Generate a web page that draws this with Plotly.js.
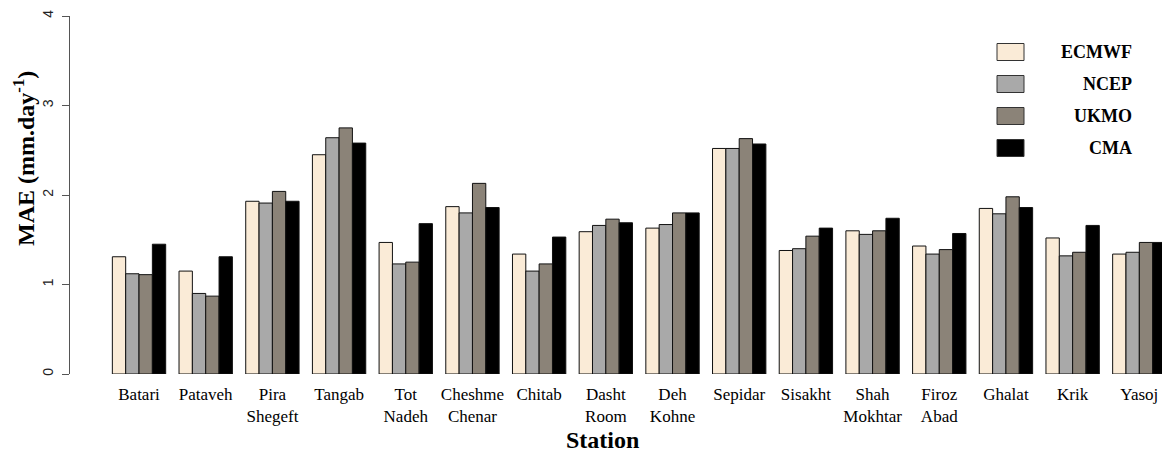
<!DOCTYPE html>
<html>
<head>
<meta charset="utf-8">
<script src="https://cdn.plot.ly/plotly-3.0.1.min.js"></script>
<style>
  html, body { margin: 0; padding: 0; background: #fff; }
  #chart { width: 1162px; height: 452px; }
</style>
</head>
<body>
<div id="chart"></div>
<script>
// ---- data ----
const stations = ["Batari", "Pataveh", "Pira<br>Shegeft", "Tangab", "Tot<br>Nadeh", "Cheshme<br>Chenar",
  "Chitab", "Dasht<br>Room", "Deh<br>Kohne", "Sepidar", "Sisakht", "Shah<br>Mokhtar", "Firoz<br>Abad",
  "Ghalat", "Krik", "Yasoj"];
const seriesNames = ["ECMWF", "NCEP", "UKMO", "CMA"];
const ecmwf = [1.31, 1.15, 1.93, 2.45, 1.47, 1.87, 1.34, 1.59, 1.63, 2.52, 1.38, 1.60, 1.43, 1.85, 1.52, 1.34];
const ncep  = [1.12, 0.90, 1.91, 2.64, 1.23, 1.80, 1.15, 1.66, 1.67, 2.52, 1.40, 1.56, 1.34, 1.79, 1.32, 1.36];
const ukmo  = [1.11, 0.87, 2.04, 2.75, 1.25, 2.13, 1.23, 1.73, 1.80, 2.63, 1.54, 1.60, 1.39, 1.98, 1.36, 1.47];
const cma   = [1.45, 1.31, 1.93, 2.58, 1.68, 1.86, 1.53, 1.69, 1.80, 2.57, 1.63, 1.74, 1.57, 1.86, 1.66, 1.47];
const yTicks = [0, 1, 2, 3, 4];
const yTitle = "MAE (mm.day<sup>-1</sup>)";
const xTitle = "Station";

// ---- styling ----
const colors = ["#FAEBD7", "#A9A9A9", "#8B8378", "#000000"];
const serif = "Liberation Serif";
const sans = "Liberation Sans";

const W = 1162, H = 452;
const M = {l: 70, r: 0, t: 16, b: 78};
const plotW = W - M.l - M.r, plotH = H - M.t - M.b;
const px = x => (x - M.l) / plotW;        // pixel -> paper x
const py = y => (H - M.b - y) / plotH;    // pixel -> paper y

const values = [ecmwf, ncep, ukmo, cma];
const traces = values.map((v, i) => ({
  type: "bar",
  name: seriesNames[i],
  x: stations,
  y: v,
  marker: {color: colors[i], line: {color: "#111", width: 1}},
  showlegend: false,
  hoverinfo: "x+y+name"
}));

// custom legend (boxes + right-aligned bold labels)
const legendRowsY = [52, 84, 116, 148];
const shapes = [];
const annotations = [];
seriesNames.forEach((n, i) => {
  const cy = legendRowsY[i];
  shapes.push({
    type: "rect", xref: "paper", yref: "paper",
    x0: px(997), x1: px(1024), y0: py(cy + 8.5), y1: py(cy - 8.5),
    fillcolor: colors[i], line: {color: "#333", width: 1}
  });
  annotations.push({
    xref: "paper", yref: "paper", x: px(1134), y: py(cy),
    xanchor: "right", yanchor: "middle", showarrow: false,
    text: "<b>" + n + "</b>", font: {family: serif, size: 18, color: "#000"}
  });
});
annotations.push({
  xref: "paper", yref: "paper", x: px(602), y: py(440),
  xanchor: "center", yanchor: "middle", showarrow: false,
  text: "<b>" + xTitle + "</b>", font: {family: serif, size: 24, color: "#000"}
});
annotations.push({
  xref: "paper", yref: "paper", x: px(24), y: py(159),
  xanchor: "center", yanchor: "middle", showarrow: false, textangle: -90,
  text: "<b>" + yTitle + "</b>", font: {family: serif, size: 24, color: "#000"}
});

const layout = {
  width: W, height: H,
  margin: M,
  paper_bgcolor: "#fff", plot_bgcolor: "#fff",
  font: {family: serif},
  barmode: "group", bargap: 0.2, bargroupgap: 0,
  showlegend: false,
  xaxis: {
    type: "category",
    range: [-1.035, 15.34],
    showgrid: false, zeroline: false, showline: false, ticks: "",
    tickfont: {family: serif, size: 17, color: "#000"},
    tickangle: 0,
    ticklabelstandoff: 8,
    fixedrange: true
  },
  yaxis: {
    range: [0, 4],
    tickvals: yTicks, ticktext: yTicks.map(String),
    showgrid: false, zeroline: false,
    showline: true, linecolor: "#555", linewidth: 1,
    ticks: "outside", ticklen: 7, tickcolor: "#555", tickwidth: 1,
    tickangle: -90,
    ticklabelstandoff: 3,
    tickfont: {family: sans, size: 14, color: "#222"},
    fixedrange: true
  },
  shapes: shapes,
  annotations: annotations
};

Plotly.newPlot("chart", traces, layout, {displayModeBar: false, staticPlot: true});
</script>
</body>
</html>
